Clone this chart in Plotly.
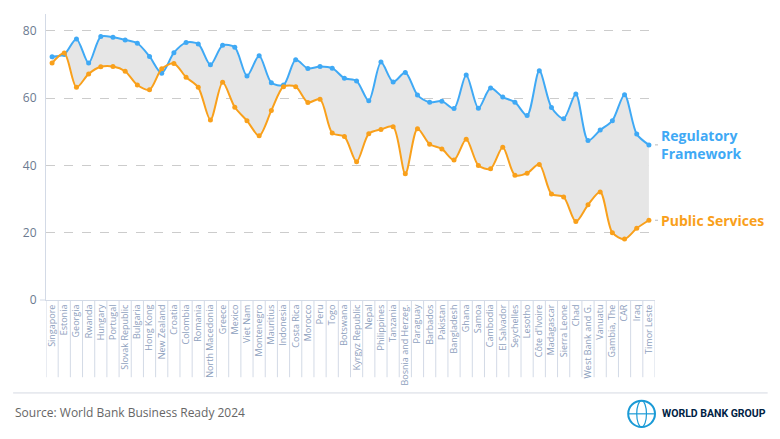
import plotly.graph_objects as go

countries = ["Singapore", "Estonia", "Georgia", "Rwanda", "Hungary", "Portugal", "Slovak Republic",
             "Bulgaria", "Hong Kong", "New Zealand", "Croatia", "Colombia", "Romania", "North Macedonia",
             "Greece", "Mexico", "Viet Nam", "Montenegro", "Mauritius", "Indonesia", "Costa Rica",
             "Morocco", "Peru", "Togo", "Botswana", "Kyrgyz Republic", "Nepal", "Philippines", "Tanzania",
             "Bosnia and Herzeg.", "Paraguay", "Barbados", "Pakistan", "Bangladesh", "Ghana", "Samoa",
             "Cambodia", "El Salvador", "Seychelles", "Lesotho", "Côte d'Ivoire", "Madagascar",
             "Sierra Leone", "Chad", "West Bank and G.", "Vanuatu", "Gambia, The", "CAR", "Iraq",
             "Timor Leste"]

regulatory = [72.3, 73.0, 77.6, 70.4, 78.3, 78.1, 77.3, 76.3, 72.4, 67.4, 73.5, 76.5, 76.1, 69.9,
              75.7, 75.1, 66.6, 72.6, 64.6, 63.9, 71.4, 68.8, 69.4, 68.9, 65.9, 65.1, 59.2, 70.7,
              64.8, 67.6, 60.9, 58.8, 59.1, 56.9, 66.9, 57.0, 63.0, 60.3, 58.8, 54.8, 68.1, 57.2,
              53.9, 61.2, 47.4, 50.5, 53.3, 61.0, 49.3, 46.1]

public = [70.4, 73.4, 63.2, 67.2, 69.3, 69.4, 68.0, 63.9, 62.5, 68.7, 70.3, 66.2, 63.2, 53.5,
          64.7, 57.3, 53.3, 48.8, 56.3, 63.4, 63.4, 58.7, 59.7, 49.6, 48.6, 41.1, 49.4, 50.7,
          51.5, 37.5, 50.9, 46.3, 44.9, 41.6, 47.8, 40.0, 39.0, 45.4, 37.1, 37.7, 40.3, 31.5,
          30.6, 23.3, 28.3, 32.1, 20.0, 18.1, 21.3, 23.7]

y_ticks = [0, 20, 40, 60, 80]
series_names = ["Regulatory<br>Framework", "Public Services"]

BLUE = "#3fa9f5"
ORANGE = "#f9a01b"
AXIS = "#d3dae6"
FONT = "Open Sans"

fig = go.Figure()
fig.add_trace(go.Scatter(
    x=countries, y=regulatory, mode="lines+markers",
    line=dict(color=BLUE, width=2, shape="spline", smoothing=0.8),
    marker=dict(color=BLUE, size=5), showlegend=False, hoverinfo="x+y"))
fig.add_trace(go.Scatter(
    x=countries, y=public, mode="lines+markers", fill="tonexty", fillcolor="#e6e6e6",
    line=dict(color=ORANGE, width=2, shape="spline", smoothing=0.8),
    marker=dict(color=ORANGE, size=5), showlegend=False, hoverinfo="x+y"))

shapes = []
# category separators below the axis
for i in range(len(countries) + 1):
    shapes.append(dict(type="line", xref="x", yref="paper", x0=i - 0.5, x1=i - 0.5,
                       y0=0, y1=-0.27, line=dict(color=AXIS, width=1)))
# small tick left of the y-axis at zero
shapes.append(dict(type="line", xref="paper", yref="paper", x0=-0.01, x1=0, y0=0, y1=0,
                   line=dict(color=AXIS, width=1)))
# leader dashes to end labels
for val in (regulatory[-1], public[-1]):
    shapes.append(dict(type="line", xref="paper", yref="y", x0=1.0, x1=1.008, y0=val, y1=val,
                       line=dict(color="#bbbbbb", width=1, dash="dot")))
# footer separator
shapes.append(dict(type="line", xref="paper", yref="paper", x0=-0.054, x1=1.185,
                   y0=-0.325, y1=-0.325, line=dict(color="#d5d9e2", width=1)))
# logo globe
shapes.append(dict(type="circle", xref="paper", yref="paper", x0=0.956, x1=1.0,
                   y0=-0.444, y1=-0.352, line=dict(color="#1a9ad6", width=2)))
shapes.append(dict(type="circle", xref="paper", yref="paper", x0=0.970, x1=0.986,
                   y0=-0.444, y1=-0.352, line=dict(color="#1a9ad6", width=1.2)))
shapes.append(dict(type="line", xref="paper", yref="paper", x0=0.956, x1=1.0,
                   y0=-0.398, y1=-0.398, line=dict(color="#1a9ad6", width=1.2)))

annotations = [
    dict(xref="paper", x=1.0, xshift=4, yref="y", y=regulatory[-1], text="<b>" + series_names[0] + "</b>",
         showarrow=False, xanchor="left", yanchor="middle", align="left",
         font=dict(family=FONT, size=14, color=BLUE)),
    dict(xref="paper", x=1.0, xshift=4, yref="y", y=public[-1], text="<b>" + series_names[1] + "</b>",
         showarrow=False, xanchor="left", yanchor="middle", align="left",
         font=dict(family=FONT, size=14, color=ORANGE)),
    dict(xref="paper", x=-0.054, yref="paper", y=-0.395, text="Source: World Bank Business Ready 2024",
         showarrow=False, xanchor="left", yanchor="middle",
         font=dict(family=FONT, size=12, color="#666666")),
    dict(xref="paper", x=1.186, yref="paper", y=-0.398, text="<b>WORLD BANK GROUP</b>",
         showarrow=False, xanchor="right", yanchor="middle",
         font=dict(family="Roboto", size=10.5, color="#002244")),
]

fig.update_layout(
    width=780, height=439,
    margin=dict(l=46, r=125, t=14, b=139),
    paper_bgcolor="white", plot_bgcolor="white",
    font=dict(family=FONT),
    shapes=shapes, annotations=annotations,
    xaxis=dict(type="category", range=[-0.5, len(countries) - 0.5], tickangle=-90,
               tickfont=dict(family=FONT, size=9, color="#8da0bd"),
               showgrid=False, showline=True, linecolor=AXIS, zeroline=False, ticks=""),
    yaxis=dict(range=[0, 85], tickvals=y_ticks, showgrid=True, gridcolor="#cccccc",
               griddash="dash", zeroline=False, showline=True, linecolor=AXIS,
               tickfont=dict(family=FONT, size=12, color="#6b7a90"), ticklabelstandoff=6),
)

fig.write_html("out.html")
